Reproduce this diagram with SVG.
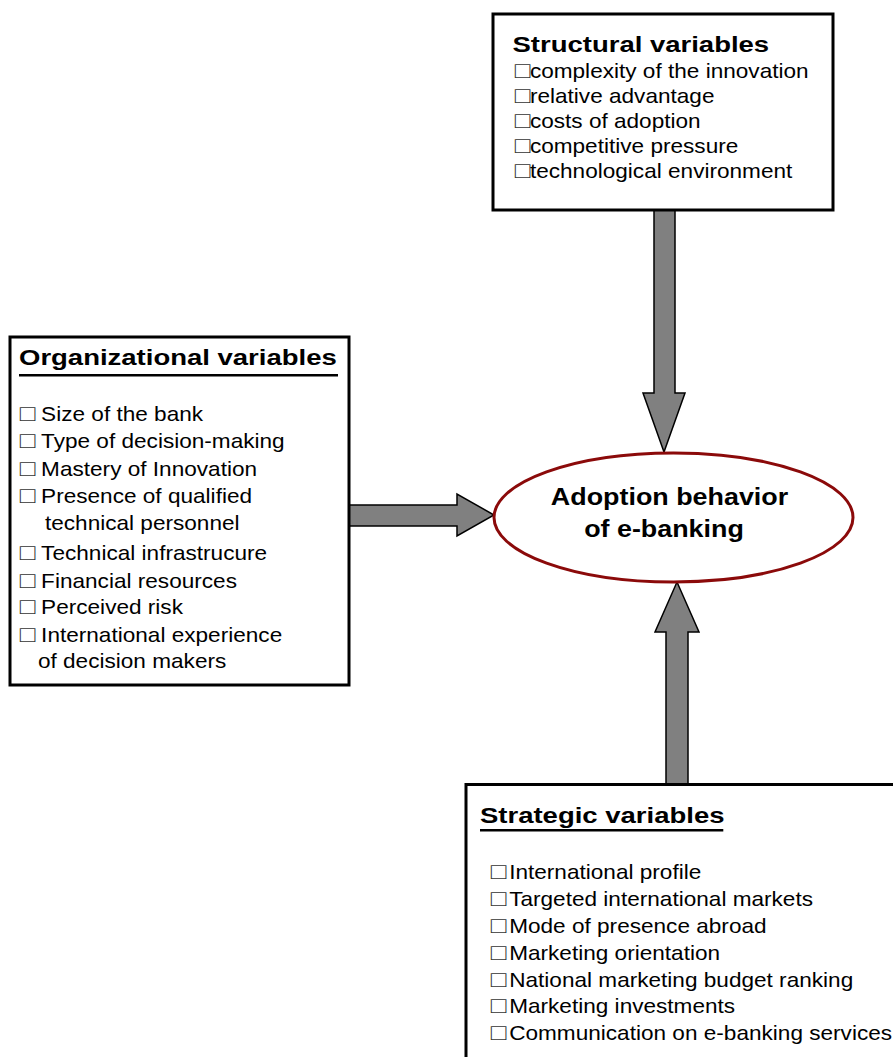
<svg xmlns="http://www.w3.org/2000/svg" width="893" height="1057" viewBox="0 0 893 1057">
<style>
.box{fill:#fff;stroke:#000;stroke-width:3}
.arrow{fill:#808080;stroke:#000;stroke-width:1.5;stroke-linejoin:miter}
.title{font-family:"Liberation Sans",Arial,sans-serif;font-weight:bold;font-size:22px;fill:#000}
.body{font-family:"Liberation Sans",Arial,sans-serif;font-size:20px;fill:#000}
.bx{font-size:23px;fill:#333}
.center{font-family:"Liberation Sans",Arial,sans-serif;font-weight:bold;font-size:24px;fill:#000;text-anchor:middle}
.ul{stroke:#000;stroke-width:2.5}
</style>
<rect width="893" height="1057" fill="#fff"/>
<g id="connectors">
<polygon class="arrow" points="654,210 675,210 675,393 685,393 664,452 643,393 654,393"/>
<polygon class="arrow" points="666,784 688,784 688,632 699,632 677,582 655,632 666,632"/>
<polygon class="arrow" points="349,505 457,505 457,494 494,515 457,536 457,526 349,526"/>
</g>
<g id="structural">
<rect class="box" x="493" y="14" width="340" height="196"/>
<g transform="translate(512.5,0) scale(1.25,1)"><text class="title" x="0" y="52.5">Structural variables</text></g>
<g transform="translate(516,0) scale(1.13,1)">
<text class="body" y="78"><tspan class="bx" x="-1">□</tspan><tspan x="12.3">complexity of the innovation</tspan></text>
<text class="body" y="103"><tspan class="bx" x="-1">□</tspan><tspan x="12.3">relative advantage</tspan></text>
<text class="body" y="128"><tspan class="bx" x="-1">□</tspan><tspan x="12.3">costs of adoption</tspan></text>
<text class="body" y="153"><tspan class="bx" x="-1">□</tspan><tspan x="12.3">competitive pressure</tspan></text>
<text class="body" y="178"><tspan class="bx" x="-1">□</tspan><tspan x="12.3">technological environment</tspan></text>
</g>
</g>
<g id="organizational">
<rect class="box" x="10" y="337" width="339" height="348"/>
<g transform="translate(19,0) scale(1.25,1)"><text class="title" x="0" y="365">Organizational variables</text></g>
<line class="ul" x1="19" y1="375.3" x2="338" y2="375.3"/>
<g transform="translate(21,0) scale(1.13,1)">
<text class="body" y="421"><tspan class="bx" x="-1">□</tspan><tspan x="17.8">Size of the bank</tspan></text>
<text class="body" y="448"><tspan class="bx" x="-1">□</tspan><tspan x="17.8">Type of decision-making</tspan></text>
<text class="body" y="476"><tspan class="bx" x="-1">□</tspan><tspan x="17.8">Mastery of Innovation</tspan></text>
<text class="body" y="503"><tspan class="bx" x="-1">□</tspan><tspan x="17.8">Presence of qualified</tspan></text>
<text class="body" x="21.2" y="530">technical personnel</text>
<text class="body" y="560"><tspan class="bx" x="-1">□</tspan><tspan x="17.8">Technical infrastrucure</tspan></text>
<text class="body" y="588"><tspan class="bx" x="-1">□</tspan><tspan x="17.8">Financial resources</tspan></text>
<text class="body" y="614.5"><tspan class="bx" x="-1">□</tspan><tspan x="17.8">Perceived risk</tspan></text>
<text class="body" y="642"><tspan class="bx" x="-1">□</tspan><tspan x="17.8">International experience</tspan></text>
<text class="body" x="15" y="668.5">of decision makers</text>
</g>
</g>
<g id="strategic">
<rect class="box" x="466" y="784.5" width="440" height="300"/>
<g transform="translate(480,0) scale(1.25,1)"><text class="title" x="0" y="823">Strategic variables</text></g>
<line class="ul" x1="480" y1="830.3" x2="723.3" y2="830.3"/>
<g transform="translate(492,0) scale(1.13,1)">
<text class="body" y="879"><tspan class="bx" x="-1">□</tspan><tspan x="15.2">International profile</tspan></text>
<text class="body" y="906"><tspan class="bx" x="-1">□</tspan><tspan x="15.2">Targeted international markets</tspan></text>
<text class="body" y="933"><tspan class="bx" x="-1">□</tspan><tspan x="15.2">Mode of presence abroad</tspan></text>
<text class="body" y="960"><tspan class="bx" x="-1">□</tspan><tspan x="15.2">Marketing orientation</tspan></text>
<text class="body" y="987"><tspan class="bx" x="-1">□</tspan><tspan x="15.2">National marketing budget ranking</tspan></text>
<text class="body" y="1013.5"><tspan class="bx" x="-1">□</tspan><tspan x="15.2">Marketing investments</tspan></text>
<text class="body" y="1040.5"><tspan class="bx" x="-1">□</tspan><tspan x="15.2">Communication on e-banking services</tspan></text>
</g>
</g>
<g id="adoption">
<ellipse cx="673.5" cy="517.5" rx="179.5" ry="64.5" fill="#fff" stroke="#8B0A0A" stroke-width="3"/>
<g transform="translate(669.5,0) scale(1.12,1)"><text class="center" x="0" y="505">Adoption behavior</text></g>
<g transform="translate(664,0) scale(1.12,1)"><text class="center" x="0" y="537">of e-banking</text></g>
</g>
</svg>
